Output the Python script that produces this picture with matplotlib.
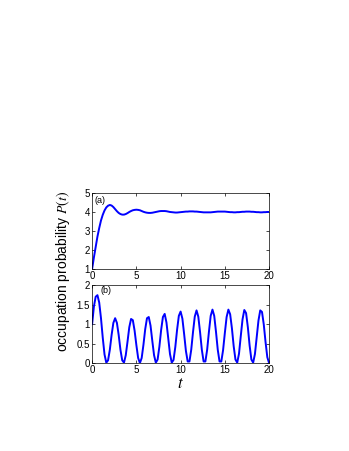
import numpy as np
import matplotlib
matplotlib.use("Agg")
import matplotlib.pyplot as plt

plt.rcParams['font.family'] = ['Liberation Sans', 'DejaVu Sans']
plt.rcParams['mathtext.fontset'] = 'stix'

t = np.linspace(0, 20, 101)

p_a = [1.00, 1.60, 2.15, 2.70, 3.15, 3.55, 3.85, 4.08, 4.24, 4.33,
       4.37, 4.34, 4.26, 4.15, 4.04, 3.95, 3.89, 3.86, 3.86, 3.89,
       3.94, 4.00, 4.05, 4.09, 4.11, 4.12, 4.11, 4.09, 4.05, 4.01,
       3.98, 3.96, 3.95, 3.95, 3.96, 3.98, 4.00, 4.02, 4.04, 4.05,
       4.05, 4.05, 4.04, 4.02, 4.00, 3.99, 3.98, 3.97, 3.97, 3.98,
       3.99,
       4.00, 4.01, 4.02, 4.02, 4.03, 4.03, 4.03, 4.02, 4.02, 4.01,
       4.00, 3.99, 3.98, 3.98, 3.98, 3.98, 3.98, 3.99, 4.00, 4.01,
       4.02, 4.02, 4.02, 4.02, 4.02, 4.01, 4.00, 3.99, 3.99, 3.98,
       3.98, 3.99, 3.99, 4.00, 4.01, 4.01, 4.02, 4.02, 4.02, 4.01,
       4.01, 4.00, 3.99, 3.99, 3.98, 3.98, 3.99, 3.99, 4.00, 4.00]

p_b = [1.00, 1.45, 1.70, 1.74, 1.55, 1.15, 0.65, 0.22, 0.01,
       0.07, 0.34, 0.72, 1.03, 1.15, 1.03, 0.72, 0.34, 0.07,
       0.01, 0.20, 0.55, 0.92, 1.13, 1.10, 0.83, 0.46, 0.13, 0.00,
       0.13, 0.47, 0.87, 1.15, 1.18, 0.96, 0.57, 0.20, 0.01,
       0.09, 0.42, 0.85, 1.18, 1.26, 1.04, 0.64, 0.23, 0.01,
       0.08, 0.41, 0.85, 1.21, 1.32, 1.14, 0.74, 0.31, 0.04,
       0.04, 0.34, 0.79, 1.19, 1.35, 1.19, 0.79, 0.34, 0.04,
       0.04, 0.34, 0.80, 1.21, 1.37, 1.21, 0.80, 0.34, 0.04,
       0.04, 0.33, 0.77, 1.18, 1.37, 1.25, 0.89, 0.43, 0.09,
       0.01, 0.24, 0.69, 1.12, 1.36, 1.28, 0.92, 0.45, 0.09,
       0.01, 0.23, 0.66, 1.09, 1.35, 1.31, 0.99, 0.54, 0.15, 0.00]

xticks = [0, 5, 10, 15, 20]
yticks_a = [1, 2, 3, 4, 5]
yticks_b = [0, 0.5, 1, 1.5, 2]
yticklabels_b = ['0', '0.5', '1', '1.5', '2']

fig = plt.figure(figsize=(3.49, 4.51), dpi=100)
ax1 = fig.add_axes([0.264, 0.404, 0.507, 0.168])
ax2 = fig.add_axes([0.264, 0.195, 0.507, 0.173])

for ax in (ax1, ax2):
    ax.tick_params(direction='in', top=True, right=True, labelsize=7,
                   length=2.5, width=0.5, pad=1.5)
    for s in ax.spines.values():
        s.set_linewidth(0.5)
    ax.set_xlim(0, 20)
    ax.set_xticks(xticks)

ax1.plot(t, p_a, color='#0000ff', lw=1.4)
ax1.set_ylim(1, 5)
ax1.set_yticks(yticks_a)
ax1.text(0.012, 0.96, '(a)', transform=ax1.transAxes, fontsize=6.5, va='top', ha='left')

ax2.plot(t, p_b, color='#0000ff', lw=1.4)
ax2.set_ylim(0, 2)
ax2.set_yticks(yticks_b)
ax2.set_yticklabels(yticklabels_b)
ax2.text(0.045, 0.985, '(b)', transform=ax2.transAxes, fontsize=6.5, va='top', ha='left')
ax2.set_xlabel('$t$', fontsize=12, labelpad=0.5)

fig.text(0.18, 0.397, 'occupation probability $P(t)$',
         rotation=90, fontsize=10, va='center', ha='center')

fig.savefig('out.png', dpi=100)
